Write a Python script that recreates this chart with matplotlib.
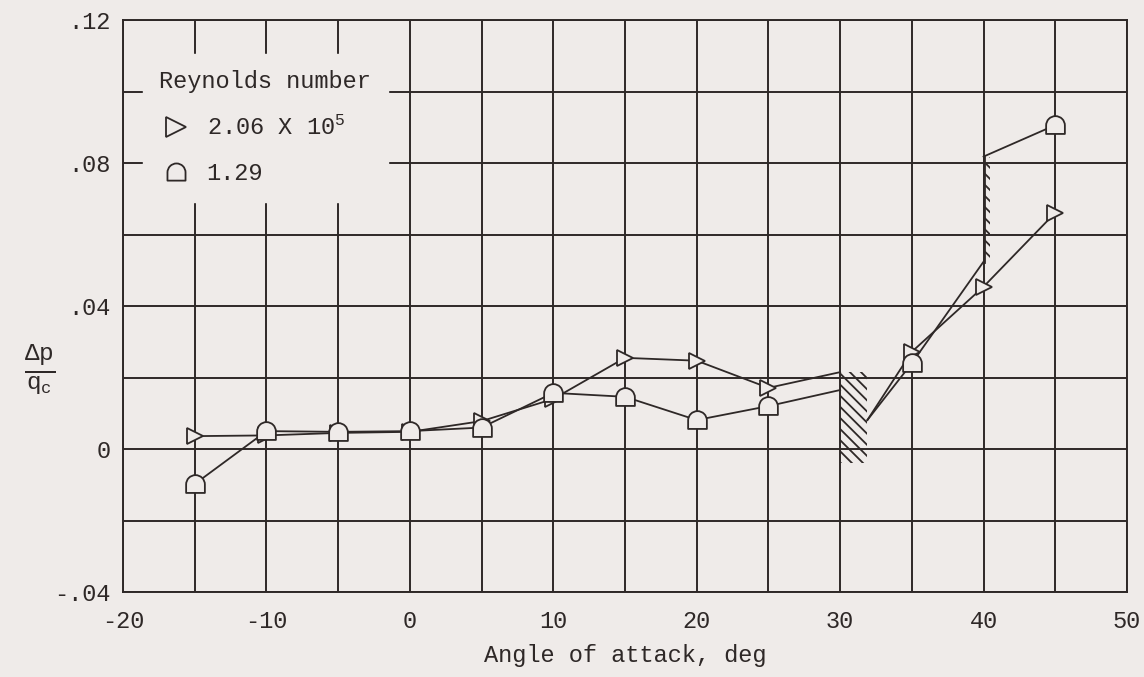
import numpy as np
import matplotlib
matplotlib.use("Agg")
import matplotlib.pyplot as plt
from matplotlib.path import Path
from matplotlib.lines import Line2D

# ---------------- data ----------------
tri_alpha = [-15, -10, -5, 0, 5, 10, 15, 20, 25, 35, 40, 45]
tri_dp = [0.0036, 0.0038, 0.0045, 0.0048, 0.0078, 0.0140, 0.0255, 0.0247,
          0.0171, 0.0272, 0.0454, 0.0661]

circ_alpha = [-15, -10, -5, 0, 5, 10, 15, 20, 25, 35, 45]
circ_dp = [-0.0098, 0.0050, 0.0048, 0.0050, 0.0060, 0.0157, 0.0146, 0.0081,
           0.0120, 0.0240, 0.0906]

# fairing end points of the faired curves at the hatched (unsteady) zones
tri_fair_end = (30.0, 0.0215)
circ_fair_end = (30.0, 0.0165)
fair_restart = (31.9, 0.0081)
circ_hatch40 = (40.0, 0.0524, 0.0818)  # alpha, lower, upper

hatch30_alpha = [30.0, 31.9]
hatch30_dp = [-0.0040, 0.0215]
hatch40_alpha = [40.0, 40.45]

x_ticks = [-20, -15, -10, -5, 0, 5, 10, 15, 20, 25, 30, 35, 40, 45, 50]
x_labels = ['-20', '', '-10', '', '0', '', '10', '', '20', '', '30', '', '40', '', '50']
y_ticks = [-0.04, -0.02, 0.0, 0.02, 0.04, 0.06, 0.08, 0.10, 0.12]
y_labels = ['-.04', '', '0', '', '.04', '', '.08', '', '.12']

legend_title = 'Reynolds number'
legend_labels = ['2.06 X 10$^5$', '1.29']

# ---------------- style ----------------
BG = '#efebe9'
INK = '#2e2827'
MONO = 'Liberation Mono'
plt.rcParams['font.family'] = [MONO, 'DejaVu Sans']
plt.rcParams['mathtext.fontset'] = 'custom'
plt.rcParams['mathtext.rm'] = MONO
plt.rcParams['mathtext.it'] = MONO
plt.rcParams['mathtext.bf'] = MONO
plt.rcParams['hatch.linewidth'] = 1.3
plt.rcParams['hatch.color'] = INK

fig = plt.figure(figsize=(11.44, 6.77), dpi=100, facecolor=BG)
ax = fig.add_axes([123 / 1144, 1 - 592 / 677, 1004 / 1144, 572 / 677])
ax.set_facecolor(BG)
ax.set_xlim(-20, 50)
ax.set_ylim(-0.04, 0.12)

ax.set_xticks(x_ticks)
ax.set_xticklabels(x_labels)
ax.set_yticks(y_ticks)
ax.set_yticklabels(y_labels)
ax.tick_params(length=0, labelsize=17, colors=INK)
ax.tick_params(axis='x', pad=13)
ax.tick_params(axis='y', pad=9)
ax.grid(True, color=INK, linewidth=1.4)
for s in ax.spines.values():
    s.set_color(INK)
    s.set_linewidth(1.4)
ax.set_axisbelow(True)

# dome (flagged-circle) marker
arc = Path.arc(0, 180)
dverts = list(arc.vertices) + [(-1, -0.9), (1, -0.9), (1, 0)]
dcodes = list(arc.codes) + [Path.LINETO, Path.LINETO, Path.CLOSEPOLY]
dome = Path(dverts, dcodes)

LW = 1.3
# faired curves
tri_line_x = list(tri_alpha[:9]) + [tri_fair_end[0], np.nan, fair_restart[0]] + list(tri_alpha[9:])
tri_line_y = list(tri_dp[:9]) + [tri_fair_end[1], np.nan, fair_restart[1]] + list(tri_dp[9:])
ax.plot(tri_line_x, tri_line_y, color=INK, lw=LW, zorder=3)

circ_line_x = (list(circ_alpha[:9]) + [circ_fair_end[0], np.nan, fair_restart[0], circ_alpha[9],
               circ_hatch40[0], np.nan, circ_hatch40[0], circ_alpha[10]])
circ_line_y = (list(circ_dp[:9]) + [circ_fair_end[1], np.nan, fair_restart[1], circ_dp[9],
               circ_hatch40[1], np.nan, circ_hatch40[2], circ_dp[10]])
ax.plot(circ_line_x, circ_line_y, color=INK, lw=LW, zorder=3)

# hatched regions
ax.fill_between(hatch30_alpha, hatch30_dp[0], hatch30_dp[1], facecolor='none',
                edgecolor=INK, hatch='\\\\\\', linewidth=0, zorder=2)
ax.fill_between(hatch40_alpha, circ_hatch40[1], circ_hatch40[2], facecolor='none',
                edgecolor=INK, hatch='\\\\\\', linewidth=0, zorder=2)
ax.plot([circ_hatch40[0], circ_hatch40[0]], [circ_hatch40[1], circ_hatch40[2]],
        color=INK, lw=2.0, zorder=3)

# markers
ax.plot(tri_alpha, tri_dp, linestyle='none', marker='>', markersize=12,
        markerfacecolor=BG, markeredgecolor=INK, markeredgewidth=1.3, zorder=4)
ax.plot(circ_alpha, circ_dp, linestyle='none', marker=dome, markersize=13.5,
        markerfacecolor=BG, markeredgecolor=INK, markeredgewidth=1.3, zorder=5)

# legend
handles = [Line2D([], [], linestyle='none', marker='>', markersize=14,
                  markerfacecolor=BG, markeredgecolor=INK, markeredgewidth=1.3),
           Line2D([], [], linestyle='none', marker=dome, markersize=13,
                  markerfacecolor=BG, markeredgecolor=INK, markeredgewidth=1.3)]
leg = ax.legend(handles, legend_labels, title=legend_title, loc='upper left',
                bbox_to_anchor=(0.008, 0.962), fontsize=17, title_fontsize=17,
                frameon=True, fancybox=False, facecolor=BG, edgecolor=BG,
                framealpha=1, borderpad=0.7, handlelength=1.4, handletextpad=0.6,
                labelspacing=0.95, alignment='left', labelcolor=INK)
leg.get_title().set_color(INK)
leg.set_zorder(6)

# axis labels
ax.set_xlabel('Angle of attack, deg', fontsize=17, color=INK, labelpad=8)
ax.set_ylabel(r'$\frac{\Delta \mathrm{p}}{\mathrm{q}_{\mathrm{c}}}$', fontsize=25,
              color=INK, rotation=0, va='center', ha='center')
ax.yaxis.set_label_coords(-0.083, 0.388)

fig.savefig('out.png', dpi=100, facecolor=BG)
